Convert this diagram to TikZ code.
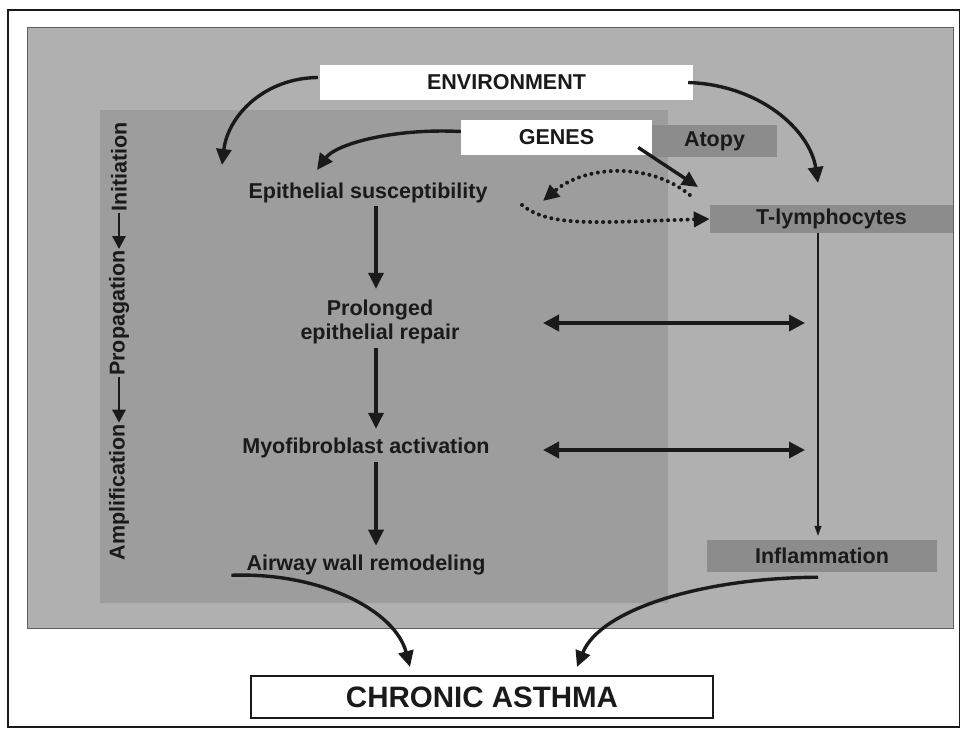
\documentclass[tikz,border=0pt]{standalone}
\usepackage{fontspec}
\setmainfont{Liberation Sans}
\usetikzlibrary{arrows.meta,calc}
\definecolor{panelgray}{HTML}{B0B0B0}
\definecolor{innergray}{HTML}{9D9D9D}
\definecolor{boxgray}{HTML}{8C8C8C}
\definecolor{ink}{HTML}{1A1A1A}
\tikzset{
  lbl/.style={font=\fontsize{21.5}{24}\selectfont\bfseries, text=ink, inner sep=1pt},
  whitebox/.style={lbl, fill=white, minimum height=35pt},
  graybox/.style={lbl, fill=boxgray},
  arr/.style={draw=ink, line width=3.4pt, -{Triangle[length=16pt,width=15pt]}},
  darr/.style={draw=ink, line width=3.6pt, {Triangle[length=16pt,width=16pt]}-{Triangle[length=16pt,width=16pt]}},
  dotarr/.style={draw=ink, line width=4pt, line cap=round, dash pattern=on 0pt off 6.5pt, -{Triangle[length=16pt,width=15pt]}},
  smallarr/.style={draw=ink, line width=2.8pt, -{Triangle[length=13pt,width=13pt]}},
  thinarr/.style={draw=ink, line width=1.1pt, -{Triangle[length=10pt,width=7pt]}},
  sidelbl/.style={lbl, rotate=90}
}
\begin{document}
\begin{tikzpicture}[x=1pt,y=-1pt]
\useasboundingbox (0,0) rectangle (961,733);
% frame and panels
\draw[ink, line width=1.3pt] (8,10) rectangle (959.5,727);
\fill[panelgray] (27,27) rectangle (953,628);
\fill[innergray] (100,110) rectangle (668,603);
\draw[ink!70, line width=0.8pt] (27,27) rectangle (953,628);

% boxes
\node[whitebox, minimum width=373pt] (env) at (506.5,82.5) {ENVIRONMENT};
\node[whitebox, minimum width=191pt] (genes) at (556.5,137.5) {GENES};
\node[graybox, minimum width=125pt, minimum height=32pt] (atopy) at (714.5,141) {Atopy};
\node[graybox, minimum width=243pt, minimum height=28pt] (tlym) at (831.5,219) {T-lymphocytes};
\node[graybox, minimum width=230pt, minimum height=32pt] (infl) at (822,556) {Inflammation};
\node[draw=ink, line width=1.2pt, fill=white, minimum width=462pt, minimum height=42pt,
      font=\fontsize{29.5}{32}\selectfont\bfseries, text=ink] (chronic) at (482,697) {CHRONIC ASTHMA};

% left column texts
\node[lbl] (epi) at (368,193) {Epithelial susceptibility};
\node[lbl, align=center] (prol) at (380,322) {Prolonged\\epithelial repair};
\node[lbl] (myo) at (366,448) {Myofibroblast activation};
\node[lbl] (airway) at (366,565) {Airway wall remodeling};

% side labels
\node[sidelbl] (init) at (119,167) {Initiation};
\node[sidelbl] (prop) at (119,313) {Propagation};
\node[sidelbl] (ampl) at (119,492) {Amplification};
\draw[smallarr] (init.west) -- (prop.east);
\draw[smallarr] (prop.west) -- (ampl.east);

% vertical chain
\coordinate (ax) at (376,0);
\draw[arr, shorten <=2pt, shorten >=10pt] (epi.south -| ax) -- (prol.north -| ax);
\draw[arr, shorten <=3pt, shorten >=8pt] (prol.south -| ax) -- (myo.north -| ax);
\draw[arr, shorten <=3pt, shorten >=8pt] (myo.south -| ax) -- (airway.north -| ax);

% curved arrows from ENVIRONMENT / GENES
\coordinate (envL) at (222,165);
\coordinate (envR) at (818,183);
\coordinate (epiT) at (317,170);
\draw[arr] ($(env.west)+(-2,-5)$) .. controls (265,78) and (228,115) .. (envL);
\draw[arr] ($(env.east)+(-5,0)$) .. controls (760,85) and (810,130) .. (envR);
\draw[arr] ($(genes.west)+(0,-6)$) .. controls (390,128) and (335,145) .. (epiT);
\coordinate (gA) at (698,187);
\draw[arr] ($(genes.east)+(-14,10)$) -- (gA);

% dotted exchange
\coordinate (dA) at (543,201);
\coordinate (dB) at (522,205);
\draw[dotarr] ($(tlym.west)+(-20,-24)$) .. controls (650,162) and (585,165) .. (dA);
\draw[dotarr] (dB) .. controls (550,228) and (600,222) .. (tlym.west);

% double arrows
\coordinate (l1) at (543,323);
\coordinate (r1) at (805,323);
\coordinate (l2) at (543,450);
\coordinate (r2) at (805,450);
\draw[darr] (l1) -- (r1);
\draw[darr] (l2) -- (r2);

% thin arrow T-lymphocytes -> Inflammation
\draw[thinarr] (tlym.south -| envR) -- ($(infl.north -| envR)+(0,-4)$);

% to CHRONIC ASTHMA
\coordinate (cL) at (410,667);
\coordinate (cR) at (577,667);
\draw[arr] ($(airway.south west)+(-14,-1)$) .. controls (320,572) and (395,610) .. (cL);
\draw[arr] ($(infl.south)+(-4,5)$) .. controls (700,578) and (600,610) .. (cR);
\end{tikzpicture}
\end{document}
